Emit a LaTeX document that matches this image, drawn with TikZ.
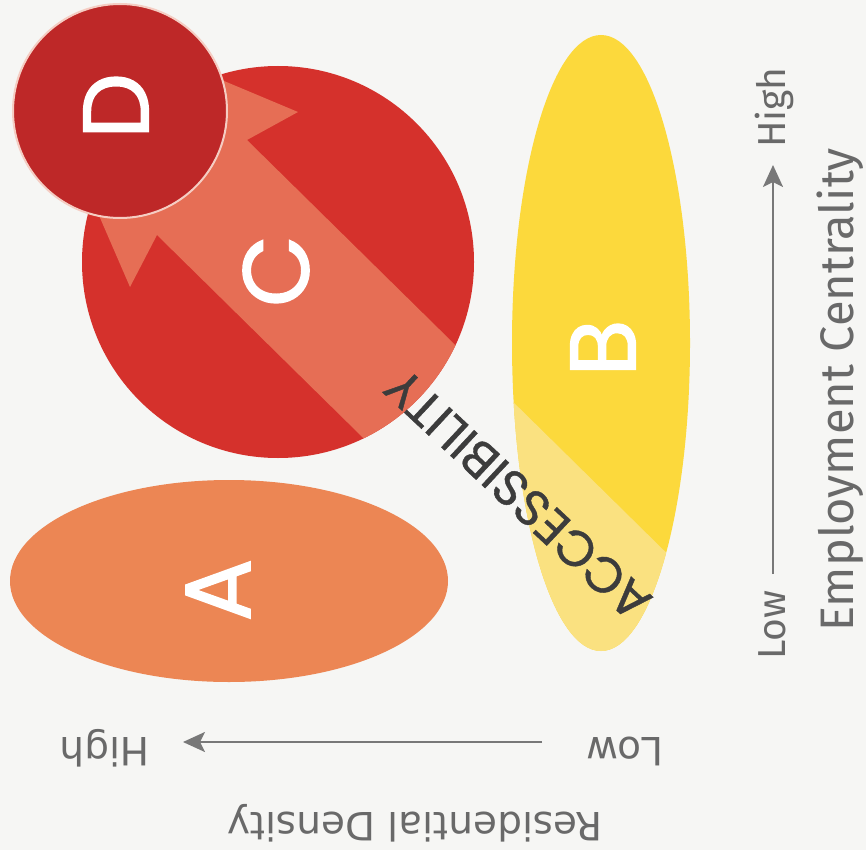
\documentclass[tikz,border=0pt]{standalone}
\usepackage{fontspec}
\usetikzlibrary{arrows.meta,shapes.geometric}
\newfontfamily\popfont{Poppins}[FakeBold=0.8]
\newfontfamily\popmed{Poppins}[FakeBold=1.6]
\newfontfamily\dvfont{DejaVu Sans}
\newfontfamily\firafont{Fira Sans}
\definecolor{bgc}{HTML}{F6F6F4}
\definecolor{colA}{RGB}{236,134,84}
\definecolor{colB}{RGB}{252,217,60}
\definecolor{colBl}{RGB}{250,225,128}
\definecolor{colC}{RGB}{213,49,44}
\definecolor{colS}{RGB}{230,110,85}
\definecolor{colD}{RGB}{190,40,40}
\definecolor{colDo}{RGB}{245,205,195}
\definecolor{axisgray}{RGB}{120,120,120}
\definecolor{labgray}{RGB}{105,105,105}
\definecolor{accgray}{RGB}{60,60,60}
\begin{document}
\begin{tikzpicture}[x=1pt,y=-1pt,
  blob/.style={inner sep=0pt, outer sep=0pt, draw=none},
  letter/.style={inner sep=0pt, text=white, rotate=90,
    font=\popmed\fontsize{93}{93}\selectfont},
  botlab/.style={inner sep=0pt, text=labgray, rotate=180,
    font=\dvfont\fontsize{39}{39}\selectfont},
  rightlab/.style={inner sep=0pt, text=labgray, rotate=90,
    font=\firafont\fontsize{39}{39}\selectfont},
  axisline/.style={draw=axisgray, line width=2.4pt,
    -{Stealth[length=22pt,width=20pt,inset=5pt]}}
]
\useasboundingbox (0,0) rectangle (866,850);
\fill[bgc] (0,0) rectangle (866,850);

% shapes
\node[blob, ellipse, fill=colA, minimum width=438pt, minimum height=202pt] (A) at (229,581) {};
\node[blob, ellipse, fill=colB, minimum width=178pt, minimum height=616pt] (B) at (601,343) {};
\node[blob, circle, fill=colC, minimum size=392pt] (C) at (278,262) {};

% accessibility arrow
\coordinate (tip) at (0,-13);
\coordinate (rw) at (298,112);
\coordinate (rn) at (247,140);
\coordinate (tr) at (760,645);
\coordinate (tl) at (665,735);
\coordinate (ln) at (157,235);
\coordinate (lw) at (130,287);
\begin{scope}
  \clip (C.center) circle[radius=196pt];
  \fill[colS] (tip) -- (rw) -- (rn) -- (tr) -- (tl) -- (ln) -- (lw) -- cycle;
\end{scope}
\begin{scope}
  \clip (B.center) ellipse[x radius=89pt, y radius=308pt];
  \fill[colBl] (tip) -- (rw) -- (rn) -- (tr) -- (tl) -- (ln) -- (lw) -- cycle;
\end{scope}

\node[blob, circle, fill=colD, draw=colDo, line width=2pt, minimum size=214pt] (D) at (120,111) {};

% letters
\node[letter] (Alab) at (218,590) {A};
\node[letter] (Blab) at (603,348) {B};
\node[letter] (Clab) at (276,271) {C};
\node[letter] (Dlab) at (116,106) {D};

\node[inner sep=0pt, text=accgray, rotate=137,
  font=\popfont\fontsize{50}{50}\selectfont] (acc) at (518,495) {ACCESSIBILITY};

% bottom axis
\node[botlab, anchor=base west] (bhigh) at (150,737) {High};
\node[botlab, anchor=base east] (blow) at (586,737) {Low};
\node[botlab, anchor=base] (bname) at (415,812) {Residential Density};
\coordinate (bstart) at (542,742);
\coordinate (bend) at (183,742);
\draw[axisline] (bstart) -- (bend);

% right axis
\node[rightlab, anchor=base west] (rhigh) at (785,148) {High};
\node[rightlab, anchor=base west] (rlow) at (785,660) {Low};
\node[inner sep=0pt, text=labgray, rotate=90, anchor=base west,
  font=\firafont\fontsize{47}{47}\selectfont] (rname) at (853,632) {Employment Centrality};
\coordinate (rstart) at (773,574);
\coordinate (rend) at (773,165);
\draw[axisline] (rstart) -- (rend);
\end{tikzpicture}
\end{document}
